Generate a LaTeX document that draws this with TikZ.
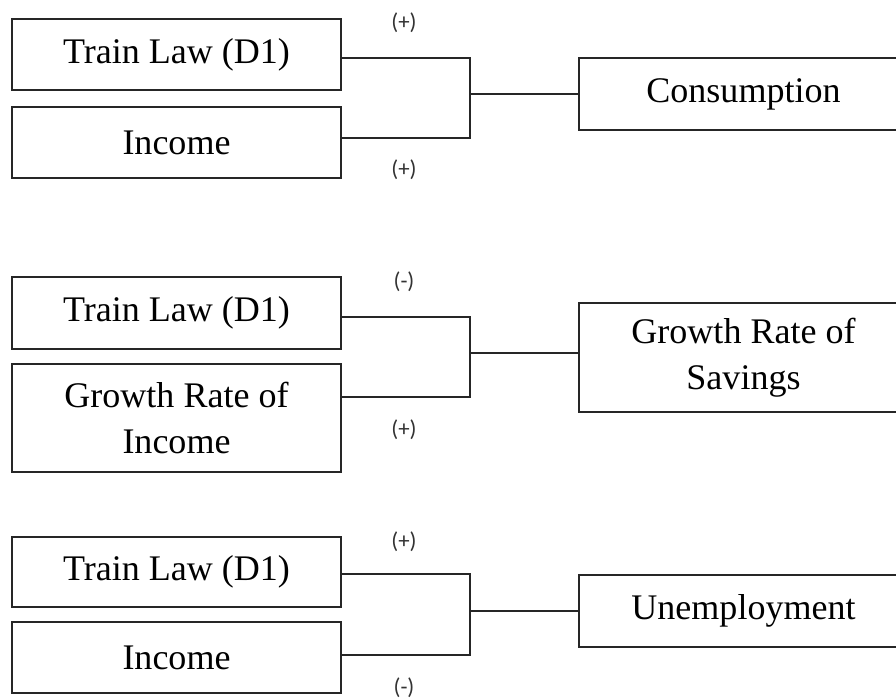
\documentclass[tikz,border=0pt]{standalone}
\usepackage{fontspec}
\setmainfont{Liberation Serif}
\newfontfamily\signfont{Carlito}
\usetikzlibrary{positioning,calc}

\begin{document}
\begin{tikzpicture}[x=0.02cm,y=-0.02cm,
  var/.style={draw=black!85,line width=0.9pt,minimum width=6.58cm,inner sep=0pt,
    align=center,font=\fontsize{20.5}{26}\selectfont},
  sign/.style={font=\signfont\fontsize{13}{15}\selectfont,inner sep=0pt,text=black!80},
  link/.style={draw=black!85,line width=0.9pt}]
\useasboundingbox (0,0) rectangle (896,698);
\clip (0,0) rectangle (896,698);
\fill[white] (0,0) rectangle (896,698);

\node[var,minimum height=1.42cm] (t1) at (176.5,54.5) {Train Law (D1)};
\node[var,minimum height=1.42cm] (i1) at (176.5,142.5) {Income};
\node[var,minimum height=1.44cm] (c1) at (743.5,94) {Consumption};
\coordinate (j1) at (470,94);
\draw[link] ($(t1.east)+(0,3.5)$) -| (j1) |- ($(i1.east)+(0,-4.5)$);
\draw[link] (j1) -- (c1.west);
\node[sign] (p1) at (404,23) {(+)};
\node[sign] (q1) at (404,170) {(+)};

\node[var,minimum height=1.44cm] (t2) at (176.5,313) {Train Law (D1)};
\node[var,minimum height=2.16cm] (g2) at (176.5,418) {Growth Rate of\\Income};
\node[var,minimum height=2.18cm] (s2) at (743.5,357.5) {Growth Rate of\\Savings};
\coordinate (j2) at (470,353);
\draw[link] ($(t2.east)+(0,4)$) -| (j2) |- ($(g2.east)+(0,-21)$);
\draw[link] (j2) -- (j2 -| s2.west);
\node[sign] (p2) at (404,282) {(-)};
\node[sign] (q2) at (404,430) {(+)};

\node[var,minimum height=1.40cm] (t3) at (176.5,572) {Train Law (D1)};
\node[var,minimum height=1.42cm] (i3) at (176.5,657.5) {Income};
\node[var,minimum height=1.44cm] (u3) at (743.5,611) {Unemployment};
\coordinate (j3) at (470,611);
\draw[link] ($(t3.east)+(0,2)$) -| (j3) |- ($(i3.east)+(0,-2.5)$);
\draw[link] (j3) -- (u3.west);
\node[sign] (p3) at (404,542) {(+)};
\node[sign] (q3) at (404,688) {(-)};
\end{tikzpicture}
\end{document}
